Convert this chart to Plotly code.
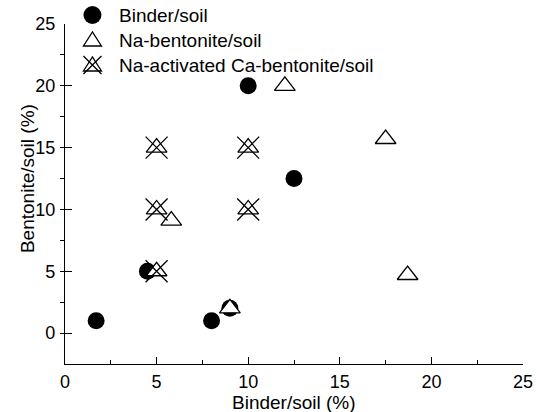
import plotly.graph_objects as go

# Data
binder_x = [1.7, 4.5, 8.0, 9.0, 10.0, 12.5]
binder_y = [1.0, 5.0, 1.0, 2.0, 20.0, 12.5]

na_bent_x = [12.0, 5.8, 17.5, 18.7, 9.0]
na_bent_y = [20.0, 9.1, 15.7, 4.7, 2.0]

na_act_x = [5.0, 5.0, 5.0, 10.0, 10.0]
na_act_y = [15.0, 10.0, 5.0, 15.0, 10.0]

legend_labels = ["Binder/soil", "Na-bentonite/soil", "Na-activated Ca-bentonite/soil"]
x_title = "Binder/soil (%)"
y_title = "Bentonite/soil (%)"

FONT = "Liberation Sans, Arial, sans-serif"
TICK_SIZE = 18
TEXT_SIZE = 19
LW = 1.3

fig = go.Figure()

fig.add_trace(go.Scatter(x=binder_x, y=binder_y, mode="markers",
                         marker=dict(symbol="circle", size=17, color="black", line=dict(width=0)),
                         showlegend=False, cliponaxis=False))
tri_marker = dict(symbol="triangle-up", size=18, color="white", line=dict(width=LW, color="black"))
fig.add_trace(go.Scatter(x=na_bent_x, y=na_bent_y, mode="markers", marker=tri_marker,
                         showlegend=False, cliponaxis=False))
fig.add_trace(go.Scatter(x=na_act_x, y=na_act_y, mode="markers", marker=tri_marker,
                         showlegend=False, cliponaxis=False))
fig.add_trace(go.Scatter(x=na_act_x, y=na_act_y, mode="markers",
                         marker=dict(symbol="x-thin-open", size=22, color="black",
                                     line=dict(width=LW, color="black")),
                         showlegend=False, cliponaxis=False))

# Manual legend (symbols as pixel-sized shapes anchored in paper coords)
PLOT_TOP, PLOT_BOTTOM, PLOT_LEFT, PLOT_RIGHT = 24, 364, 64.5, 523.5
W, H = 537, 412
ph = PLOT_BOTTOM - PLOT_TOP
pw = PLOT_RIGHT - PLOT_LEFT
leg_rows_px = [15, 40, 65]
sym_x = (92 - PLOT_LEFT) / pw
txt_x = (117 - PLOT_LEFT) / pw
leg_rows = [(PLOT_BOTTOM - r) / ph for r in leg_rows_px]

shapes = []
common = dict(xref="paper", yref="paper", xsizemode="pixel", ysizemode="pixel",
              xanchor=sym_x)
shapes.append(dict(type="circle", yanchor=leg_rows[0], x0=-9, x1=9, y0=-9, y1=9,
                   fillcolor="black", line=dict(width=0), **common))
tri_path = "M-9,-6 L9,-6 L0,8 Z"
shapes.append(dict(type="path", yanchor=leg_rows[1], path=tri_path, fillcolor="white",
                   line=dict(width=LW, color="black"), **common))
shapes.append(dict(type="path", yanchor=leg_rows[2], path=tri_path, fillcolor="white",
                   line=dict(width=LW, color="black"), **common))
shapes.append(dict(type="path", yanchor=leg_rows[2], path="M-9,-9 L9,9 M-9,9 L9,-9",
                   line=dict(width=LW, color="black"), **common))

annotations = []
for lbl, yy in zip(legend_labels, leg_rows):
    annotations.append(dict(x=txt_x, y=yy, xref="paper", yref="paper", text=lbl, showarrow=False,
                            xanchor="left", yanchor="middle",
                            font=dict(size=TEXT_SIZE, color="black", family=FONT)))
# axis titles
annotations.append(dict(x=0.5, y=0, xref="paper", yref="paper", text=x_title, showarrow=False,
                        xanchor="center", yanchor="middle", yshift=-(402 - PLOT_BOTTOM),
                        font=dict(size=TEXT_SIZE, color="black", family=FONT)))
annotations.append(dict(x=0, y=12.5, xref="paper", yref="y", text=y_title, showarrow=False,
                        xanchor="center", yanchor="middle", textangle=-90,
                        xshift=27 - PLOT_LEFT,
                        font=dict(size=TEXT_SIZE, color="black", family=FONT)))

fig.update_layout(
    width=W, height=H,
    margin=dict(l=PLOT_LEFT, r=W - PLOT_RIGHT, t=PLOT_TOP, b=H - PLOT_BOTTOM),
    paper_bgcolor="white", plot_bgcolor="white",
    hovermode=False,
    font=dict(family=FONT, color="black", size=TICK_SIZE),
    xaxis=dict(range=[0, 25], dtick=5, tick0=0, automargin=False,
               showline=True, linecolor="black", linewidth=LW, showgrid=False, zeroline=False,
               ticks="inside", ticklen=7, tickwidth=LW, tickcolor="black",
               ticklabelstandoff=1,
               tickfont=dict(size=TICK_SIZE, color="black", family=FONT),
               minor=dict(ticks="inside", ticklen=4, tickwidth=LW, tickcolor="black",
                          dtick=2.5, tick0=0, showgrid=False)),
    yaxis=dict(range=[-2.5, 25], dtick=5, tick0=0, automargin=False,
               showline=True, linecolor="black", linewidth=LW, showgrid=False, zeroline=False,
               ticks="inside", ticklen=7, tickwidth=LW, tickcolor="black",
               ticklabelstandoff=5,
               tickfont=dict(size=TICK_SIZE, color="black", family=FONT),
               minor=dict(ticks="outside", ticklen=4, tickwidth=LW, tickcolor="black",
                          dtick=2.5, tick0=0, showgrid=False)),
    shapes=shapes,
    annotations=annotations,
)

fig.write_html("out.html", config={"displayModeBar": False},
               post_script=["document.body.style.margin='0';document.body.style.padding='0';"])
